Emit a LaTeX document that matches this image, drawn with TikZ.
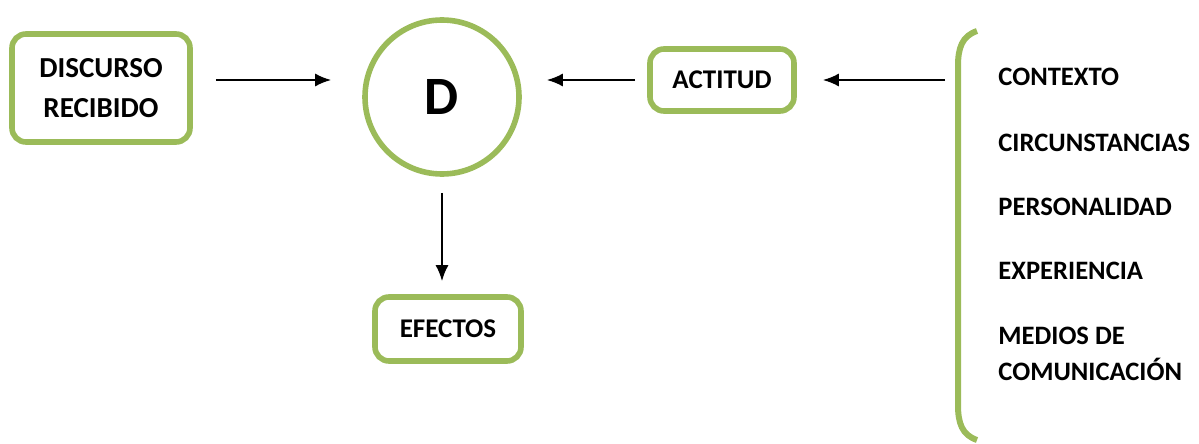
\documentclass[tikz,border=0pt]{standalone}
\usepackage{fontspec}
\setmainfont{Carlito}
\usetikzlibrary{arrows.meta,positioning}
\definecolor{leaf}{HTML}{9BBB59}
\tikzset{
    %Define standard arrow tip
    >={Latex[length=8pt,width=6.5pt]},
    %Define style for boxes
    greenbox/.style={
           rectangle,
           rounded corners=7pt,
           draw=leaf, line width=2.8pt,
           font=\bfseries\fontsize{13.5}{20}\selectfont,
           text centered,
           align=center},
    % Define style for the centre circle
    core/.style={
           circle,
           draw=leaf, line width=2.8pt,
           minimum size=77pt,
           font=\bfseries\fontsize{27}{30}\selectfont},
    % Define style for the list items
    item/.style={
           anchor=west,
           inner sep=0pt,
           align=left,
           font=\bfseries\fontsize{13.3}{18}\selectfont},
    % Define arrow style
    pil/.style={
           ->,
           line width=1pt}
}
\begin{document}
\begin{tikzpicture}[x=0.5pt,y=-0.5pt]
\useasboundingbox (0,0) rectangle (1199,444);
\node[core](D) at (442,97){D};
\node[greenbox, minimum width=89pt, minimum height=54pt, font=\bfseries\fontsize{14.5}{20}\selectfont](Discurso) at (101,88){DISCURSO\\RECIBIDO};
\node[greenbox, minimum width=72pt, minimum height=31pt](Actitud) at (722,80){ACTITUD};
\node[greenbox, minimum width=73pt, minimum height=32pt](Efectos) at (448,329){EFECTOS};
% bracket with the list
\draw[leaf, line width=3pt] (977,31) .. controls (962,36) and (958,48) .. (958,66)
      -- (958,405) .. controls (958,423) and (962,435) .. (977,440);
\coordinate (Brace) at (945,80);
\node[item](Contexto) at (998,77){CONTEXTO};
\node[item](Circ) at (998,143){CIRCUNSTANCIAS};
\node[item](Perso) at (998,207){PERSONALIDAD};
\node[item](Exper) at (998,271){EXPERIENCIA};
\node[item](Medios) at (998,354){MEDIOS DE\\COMUNICACIÓN};
% arrows
\draw[pil, shorten <=11.5pt, shorten >=15.5pt] (Discurso.east |- Actitud) -- (D.west |- Actitud);
\draw[pil, shorten <=6pt, shorten >=12.5pt] (Actitud.west) -- (D.east |- Actitud);
\draw[pil, shorten >=13pt] (Brace) -- (Actitud.east);
\draw[pil, shorten <=8pt, shorten >=6.5pt] (D.south) -- (D.south |- Efectos.north);
\end{tikzpicture}
\end{document}
